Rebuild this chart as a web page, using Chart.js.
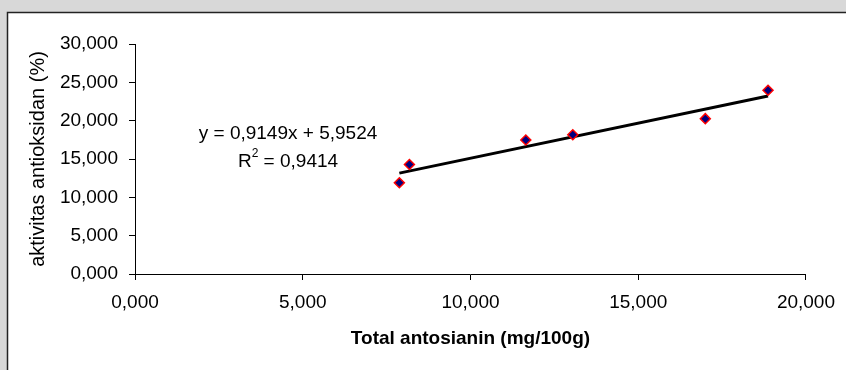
<!DOCTYPE html>
<html>
<head>
<meta charset="utf-8">
<script src="https://cdn.jsdelivr.net/npm/chart.js@4"></script>
<style>
  html, body { margin: 0; padding: 0; background: #d8d8d8; }
  #wrap { width: 846px; height: 370px; position: relative; }
</style>
</head>
<body>
<div id="wrap"><canvas id="chart" width="846" height="370"></canvas></div>
<script>
// measured points: total antosianin (x) vs aktivitas antioksidan (y)
const antosianin = [7.88, 8.18, 11.65, 13.05, 17.0, 18.87];
const aktivitas = [11.9, 14.29, 17.48, 18.17, 20.26, 23.96];

// linear trendline ends
const trendX = [7.88, 18.87];
const trendY = [13.16, 23.22];

const xTicks = [0, 5, 10, 15, 20];
const yTicks = [0, 5, 10, 15, 20, 25, 30];

const equation = 'y = 0,9149x + 5,9524';
const rSquared = '0,9414';

const fmt = v => v.toFixed(3).replace('.', ',');
const FONT = 'Liberation Sans, Arial, sans-serif';

const frame = {
    id: 'frame',
    beforeDraw(chart) {
        const c = chart.ctx;
        c.save();
        c.fillStyle = '#d8d8d8';
        c.fillRect(0, 0, chart.width, chart.height);
        c.fillStyle = '#ffffff';
        c.fillRect(7, 12, chart.width - 7, chart.height - 12);
        c.strokeStyle = '#222';
        c.lineWidth = 1.5;
        c.beginPath();
        c.moveTo(7.5, chart.height);
        c.lineTo(7.5, 12.5);
        c.lineTo(chart.width, 12.5);
        c.stroke();
        c.restore();
    }
};

const eqLabel = {
    id: 'eqLabel',
    afterDatasetsDraw(chart) {
        const c = chart.ctx;
        const cx = 288;
        c.save();
        c.fillStyle = '#000';
        c.font = '19px ' + FONT;
        c.textBaseline = 'middle';
        c.textAlign = 'center';
        c.fillText(equation, cx, 134);

        // R² line, centred on the same x
        const rest = ' = ' + rSquared;
        const wR = c.measureText('R').width;
        const wRest = c.measureText(rest).width;
        c.font = '12px ' + FONT;
        const w2 = c.measureText('2').width;
        let x = cx - (wR + w2 + wRest) / 2;
        c.textAlign = 'left';
        c.font = '19px ' + FONT;
        c.fillText('R', x, 162);
        x += wR;
        c.font = '12px ' + FONT;
        c.fillText('2', x, 154);
        x += w2;
        c.font = '19px ' + FONT;
        c.fillText(rest, x, 162);
        c.restore();
    }
};

new Chart(document.getElementById('chart'), {
    type: 'scatter',
    data: {
        datasets: [{
            label: 'data',
            data: antosianin.map((x, i) => ({ x: x, y: aktivitas[i] })),
            pointStyle: 'rectRot',
            pointRadius: 5,
            pointHoverRadius: 5,
            backgroundColor: '#000080',
            borderColor: '#ff0000',
            borderWidth: 1.5,
            order: 0
        }, {
            label: 'trend',
            type: 'line',
            data: trendX.map((x, i) => ({ x: x, y: trendY[i] })),
            borderColor: '#000000',
            borderWidth: 3,
            pointRadius: 0,
            fill: false,
            order: 1
        }]
    },
    options: {
        responsive: false,
        animation: false,
        events: [],
        layout: { padding: { left: 0, top: 44, right: 34, bottom: 0 } },
        plugins: {
            legend: { display: false },
            tooltip: { enabled: false }
        },
        scales: {
            x: {
                type: 'linear',
                min: 0,
                max: 20,
                afterBuildTicks: s => { s.ticks = xTicks.map(v => ({ value: v })); },
                afterFit: s => { s.height = 96; },
                grid: { drawOnChartArea: false, drawTicks: true, tickLength: 6, color: '#000' },
                border: { display: true, color: '#000', width: 1 },
                ticks: {
                    color: '#000',
                    font: { family: FONT, size: 19 },
                    padding: 11,
                    maxRotation: 0,
                    callback: v => fmt(v)
                },
                title: {
                    display: true,
                    text: 'Total antosianin (mg/100g)',
                    color: '#000',
                    font: { family: FONT, size: 19, weight: 'bold' },
                    padding: { top: 0, bottom: 20 }
                }
            },
            y: {
                type: 'linear',
                min: 0,
                max: 30,
                afterBuildTicks: s => { s.ticks = yTicks.map(v => ({ value: v })); },
                afterFit: s => { s.width = 135; },
                grid: { drawOnChartArea: false, drawTicks: true, tickLength: 6, color: '#000' },
                border: { display: true, color: '#000', width: 1 },
                ticks: {
                    color: '#000',
                    font: { family: FONT, size: 19 },
                    padding: 11,
                    callback: v => fmt(v)
                },
                title: {
                    display: true,
                    text: 'aktivitas antioksidan (%)',
                    color: '#000',
                    font: { family: FONT, size: 20 },
                    padding: { top: 26, bottom: 0 }
                }
            }
        }
    },
    plugins: [frame, eqLabel]
});
</script>
</body>
</html>
